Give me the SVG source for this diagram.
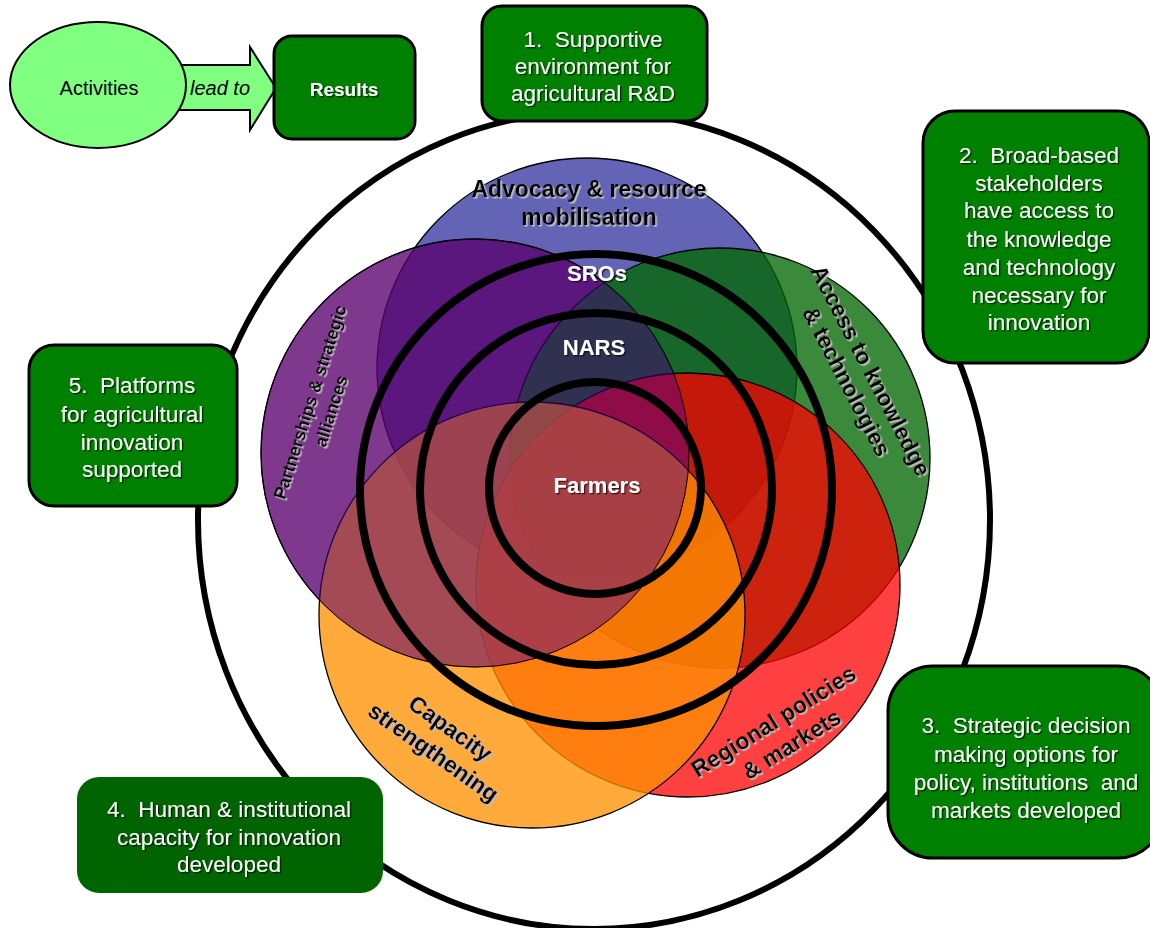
<svg xmlns="http://www.w3.org/2000/svg" width="1150" height="928" viewBox="0 0 1150 928">
  <defs>
    <style>
      .box { fill: #008000; stroke: #000; stroke-width: 3; }
      .boxd { fill: #006400; stroke: none; }
      .bt { font-family: "Liberation Sans", Arial, sans-serif; font-size: 22.5px; fill: #fff; text-anchor: middle; white-space: pre; }
      .lab { font-family: "Liberation Sans", Arial, sans-serif; font-size: 23px; font-weight: bold; fill: #000; text-anchor: middle; }
      .core { font-family: "Liberation Sans", Arial, sans-serif; font-size: 22px; font-weight: bold; fill: #fff; text-anchor: middle; }
      .ring { fill: none; stroke: #000; stroke-width: 8; }
      .petal { stroke: #000; stroke-width: 1.3; }
    </style>
    <filter id="shD" x="-10%" y="-20%" width="120%" height="150%">
      <feDropShadow dx="1.4" dy="1.4" stdDeviation="0.4" flood-color="#000" flood-opacity="0.65"/>
    </filter>
    <filter id="shL" x="-10%" y="-20%" width="120%" height="150%">
      <feDropShadow dx="1.6" dy="1.6" stdDeviation="0.3" flood-color="#bdbdbd" flood-opacity="1"/>
    </filter>
  </defs>

  <rect width="1150" height="928" fill="#fff"/>

  <!-- outer boundary -->
  <ellipse cx="594" cy="520" rx="396" ry="409" fill="none" stroke="#000" stroke-width="6"/>

  <!-- overlapping thematic circles -->
  <g id="petals">
    <circle id="advocacy" class="petal" cx="587" cy="368" r="210" fill="rgb(34,34,151)" fill-opacity="0.7"/>
    <circle id="partnerships-base" class="petal" cx="475" cy="453" r="214" fill="rgb(103,5,55)" fill-opacity="0.6"/>
    <circle id="access" class="petal" cx="720" cy="458" r="210" fill="rgb(0,103,0)" fill-opacity="0.77"/>
    <circle id="regional" class="petal" cx="688" cy="585" r="212" fill="rgb(255,0,0)" fill-opacity="0.75"/>
    <circle id="capacity" class="petal" cx="532" cy="615" r="213" fill="rgb(255,145,0)" fill-opacity="0.77"/>
    <circle id="partnerships" cx="475" cy="453" r="214" fill="rgb(80,0,150)" fill-opacity="0.45" stroke="#000" stroke-width="1"/>
  </g>

  <!-- concentric actor rings -->
  <g id="rings">
    <circle class="ring" cx="596" cy="490" r="236"/>
    <circle class="ring" cx="596" cy="489" r="176"/>
    <circle class="ring" cx="595" cy="488" r="106"/>
  </g>

  <!-- circle labels -->
  <g id="label-advocacy" filter="url(#shL)">
    <text class="lab" x="589" y="197">Advocacy &amp; resource</text>
    <text class="lab" x="589" y="225">mobilisation</text>
  </g>
  <g id="label-partnerships" filter="url(#shL)">
    <text class="lab" style="font-size:17.5px" transform="translate(310,402) rotate(-72.2)" x="0" y="6">Partnerships &amp; strategic</text>
    <text class="lab" style="font-size:17.5px" transform="translate(331,411) rotate(-72.2)" x="0" y="6">alliances</text>
  </g>
  <g id="label-access" filter="url(#shL)">
    <text class="lab" transform="translate(870,371) rotate(62.6)" x="0" y="7">Access to knowledge</text>
    <text class="lab" transform="translate(846,382) rotate(62.6)" x="0" y="7">&amp; technologies</text>
  </g>
  <g id="label-capacity" filter="url(#shL)">
    <text class="lab" transform="translate(450,729) rotate(35.4)" x="0" y="7">Capacity</text>
    <text class="lab" transform="translate(433,753) rotate(35.4)" x="0" y="7">strengthening</text>
  </g>
  <g id="label-regional" filter="url(#shL)">
    <text class="lab" transform="translate(774,722) rotate(-32)" x="0" y="7">Regional policies</text>
    <text class="lab" transform="translate(792,745) rotate(-32)" x="0" y="7">&amp; markets</text>
  </g>
  <g id="label-actors" filter="url(#shD)">
    <text class="core" x="597" y="281">SROs</text>
    <text class="core" x="594" y="355">NARS</text>
    <text class="core" x="597" y="493">Farmers</text>
  </g>

  <!-- legend -->
  <g id="connectors">
    <path d="M170,65 L250,65 L250,47 L276,88 L250,130 L250,110 L170,110 Z" fill="#80ff80" stroke="#000" stroke-width="2"/>
  </g>
  <g id="activities">
    <ellipse cx="98" cy="85" rx="88" ry="63" fill="#80ff80" stroke="#000" stroke-width="2"/>
    <text x="99" y="95" style="font-family:'Liberation Sans',Arial,sans-serif;font-size:20px;text-anchor:middle;fill:#000">Activities</text>
  </g>
  <text x="220" y="95" style="font-family:'Liberation Sans',Arial,sans-serif;font-size:20px;font-style:italic;text-anchor:middle;fill:#000">lead to</text>
  <g id="results">
    <rect class="box" x="274" y="36" width="141" height="103" rx="18" stroke-width="2.5"/>
    <text x="344" y="96" filter="url(#shD)" style="font-family:'Liberation Sans',Arial,sans-serif;font-size:19px;font-weight:bold;text-anchor:middle;fill:#fff">Results</text>
  </g>

  <!-- result boxes -->
  <g id="result-1">
    <rect class="box" x="482" y="6" width="225" height="115" rx="20"/>
    <g filter="url(#shD)">
      <text class="bt" x="593" y="47">1.  Supportive</text>
      <text class="bt" x="593" y="74">environment for</text>
      <text class="bt" x="593" y="101">agricultural R&amp;D</text>
    </g>
  </g>
  <g id="result-2">
    <rect class="box" x="923" y="111" width="226" height="252" rx="32"/>
    <g filter="url(#shD)">
      <text class="bt" x="1039" y="163">2.  Broad-based</text>
      <text class="bt" x="1039" y="191">stakeholders</text>
      <text class="bt" x="1039" y="218">have access to</text>
      <text class="bt" x="1039" y="247">the knowledge</text>
      <text class="bt" x="1039" y="275">and technology</text>
      <text class="bt" x="1039" y="303">necessary for</text>
      <text class="bt" x="1039" y="330">innovation</text>
    </g>
  </g>
  <g id="result-3">
    <rect class="box" x="888" y="666" width="275" height="192" rx="45"/>
    <g filter="url(#shD)">
      <text class="bt" x="1026" y="733">3.  Strategic decision</text>
      <text class="bt" x="1026" y="762">making options for</text>
      <text class="bt" x="1026" y="790">policy, institutions  and</text>
      <text class="bt" x="1026" y="818">markets developed</text>
    </g>
  </g>
  <g id="result-4">
    <rect class="boxd" x="77" y="777" width="306" height="116" rx="22"/>
    <g filter="url(#shD)">
      <text class="bt" x="229" y="817">4.  Human &amp; institutional</text>
      <text class="bt" x="229" y="845">capacity for innovation</text>
      <text class="bt" x="229" y="872">developed</text>
    </g>
  </g>
  <g id="result-5">
    <rect class="box" x="29" y="345" width="208" height="161" rx="25"/>
    <g filter="url(#shD)">
      <text class="bt" x="132" y="393">5.  Platforms</text>
      <text class="bt" x="132" y="422">for agricultural</text>
      <text class="bt" x="132" y="450">innovation</text>
      <text class="bt" x="132" y="477">supported</text>
    </g>
  </g>
</svg>
